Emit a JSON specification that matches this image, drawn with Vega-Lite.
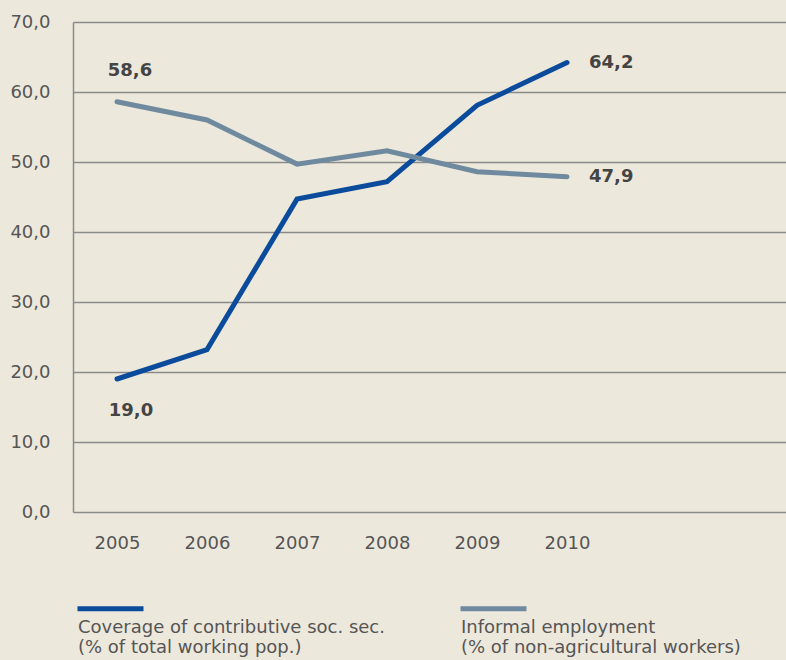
{
  "$schema": "https://vega.github.io/schema/vega-lite/v6.json",
  "width": 713,
  "height": 490,
  "autosize": "none",
  "padding": {"left": 73, "top": 22, "right": 0, "bottom": 148},
  "background": "#ede8dc",
  "config": {
    "view": {"stroke": null},
    "font": "DejaVu Sans",
    "locale": {"number": {"decimal": ",", "thousands": ".", "grouping": [3], "currency": ["", ""]}}
  },
  "data": {
    "values": [
      {"year": 2005, "series": "Coverage of contributive soc. sec. (% of total working pop.)", "value": 19.0},
      {"year": 2006, "series": "Coverage of contributive soc. sec. (% of total working pop.)", "value": 23.2},
      {"year": 2007, "series": "Coverage of contributive soc. sec. (% of total working pop.)", "value": 44.7},
      {"year": 2008, "series": "Coverage of contributive soc. sec. (% of total working pop.)", "value": 47.2},
      {"year": 2009, "series": "Coverage of contributive soc. sec. (% of total working pop.)", "value": 58.1},
      {"year": 2010, "series": "Coverage of contributive soc. sec. (% of total working pop.)", "value": 64.2},
      {"year": 2005, "series": "Informal employment (% of non-agricultural workers)", "value": 58.6},
      {"year": 2006, "series": "Informal employment (% of non-agricultural workers)", "value": 56.0},
      {"year": 2007, "series": "Informal employment (% of non-agricultural workers)", "value": 49.7},
      {"year": 2008, "series": "Informal employment (% of non-agricultural workers)", "value": 51.6},
      {"year": 2009, "series": "Informal employment (% of non-agricultural workers)", "value": 48.6},
      {"year": 2010, "series": "Informal employment (% of non-agricultural workers)", "value": 47.9}
    ]
  },
  "encoding": {
    "x": {
      "field": "year", "type": "quantitative",
      "scale": {"domain": [2004.511, 2012.433], "nice": false, "zero": false},
      "axis": {
        "title": null, "values": [2005, 2006, 2007, 2008, 2009, 2010], "format": "d",
        "domain": false, "ticks": false, "grid": false,
        "labelFontSize": 18, "labelColor": "#555555", "labelPadding": 22, "labelFont": "DejaVu Sans"
      }
    },
    "y": {
      "field": "value", "type": "quantitative",
      "scale": {"domain": [0, 70], "nice": false},
      "axis": {
        "title": null, "values": [0, 10, 20, 30, 40, 50, 60, 70], "format": ".1f",
        "domain": true, "domainColor": "#8a8a8a", "domainWidth": 1.5,
        "ticks": false, "grid": true, "gridColor": "#8a8a8a", "gridWidth": 1.5, "gridOpacity": 1,
        "labelFontSize": 18, "labelColor": "#555555", "labelPadding": 23, "labelFont": "DejaVu Sans"
      }
    }
  },
  "layer": [
    {
      "mark": {"type": "line", "strokeWidth": 5, "strokeCap": "round", "strokeJoin": "miter"},
      "encoding": {
        "color": {
          "field": "series", "type": "nominal",
          "scale": {"range": ["#0b4b9b", "#6f8a9f"]},
          "legend": {
            "orient": "none", "legendX": 2, "legendY": 561,
            "direction": "horizontal", "columns": 2, "columnPadding": 65,
            "title": null,
            "symbolType": "M-1,-0.3L1,-0.3", "symbolSize": 4356, "symbolStrokeWidth": 5,
            "labelExpr": "[slice(datum.label, 0, indexof(datum.label, ' (')), slice(datum.label, indexof(datum.label, ' (') + 1)]",
            "labelBaseline": "top", "labelOffset": -68, "labelFontSize": 18, "labelColor": "#555555",
            "labelLimit": 400, "labelFont": "DejaVu Sans"
          }
        }
      }
    },
    {
      "transform": [{"filter": "datum.year == 2005 && datum.value > 50"}],
      "mark": {"type": "text", "dx": 13, "dy": -31, "fontSize": 18, "fontWeight": "bold", "color": "#444444", "font": "DejaVu Sans"},
      "encoding": {"text": {"field": "value", "type": "quantitative", "format": ".1f"}}
    },
    {
      "transform": [{"filter": "datum.year == 2005 && datum.value < 50"}],
      "mark": {"type": "text", "dx": 14, "dy": 32, "fontSize": 18, "fontWeight": "bold", "color": "#444444", "font": "DejaVu Sans"},
      "encoding": {"text": {"field": "value", "type": "quantitative", "format": ".1f"}}
    },
    {
      "transform": [{"filter": "datum.year == 2010"}],
      "mark": {"type": "text", "dx": 22, "dy": 0, "align": "left", "fontSize": 18, "fontWeight": "bold", "color": "#444444", "font": "DejaVu Sans"},
      "encoding": {"text": {"field": "value", "type": "quantitative", "format": ".1f"}}
    }
  ]
}
